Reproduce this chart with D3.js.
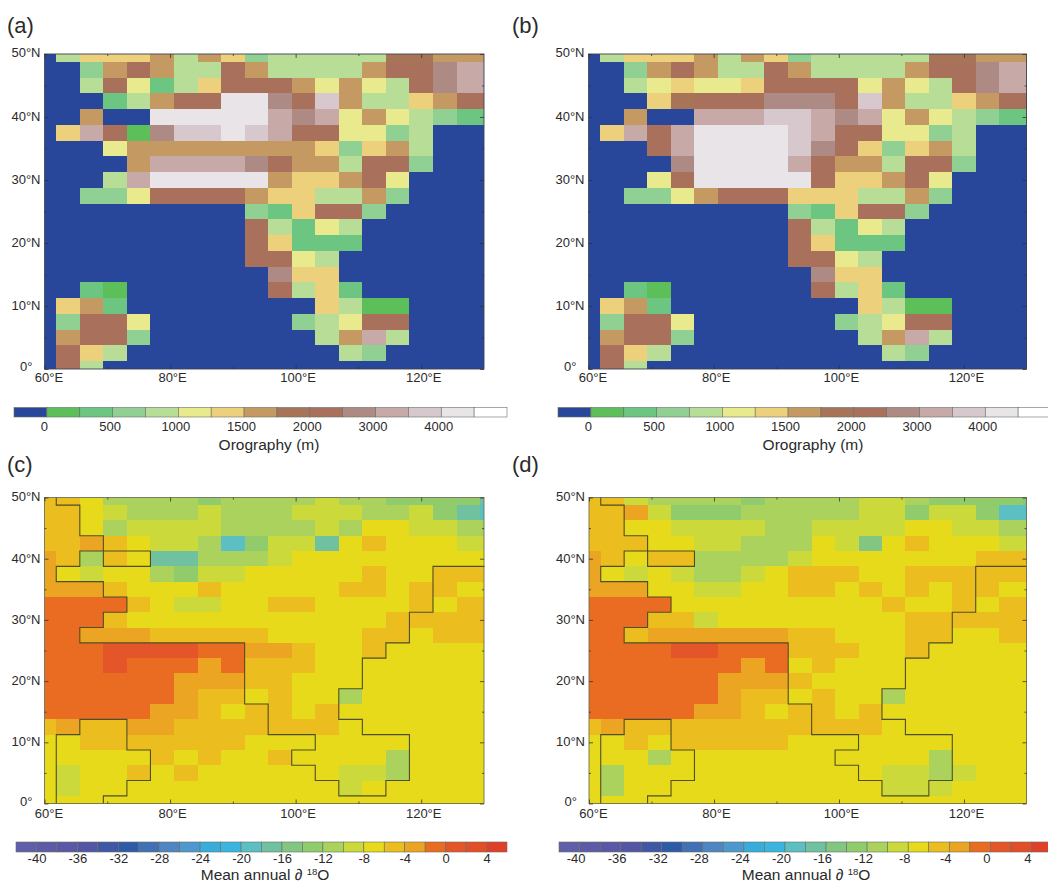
<!DOCTYPE html>
<html>
<head>
<meta charset="utf-8">
<script src="https://cdn.jsdelivr.net/npm/d3@7"></script>
<style>
  html, body { margin: 0; padding: 0; background: #fff; }
  text { font-family: "Liberation Sans", Arial, sans-serif; fill: #2a2a2a; }
</style>
</head>
<body>
<div id="chart"></div>
<script>
// model grid, columns and rows are cut off at the map edge
const lonEdges = [60, 61.875, 65.625, 69.375, 73.125, 76.875, 80.625, 84.375, 88.125, 91.875, 95.625, 99.375, 103.125, 106.875, 110.625, 114.375, 118.125, 121.875, 125.625, 129.375, 130];
const latEdges = [50, 48.75, 46.25, 43.75, 41.25, 38.75, 36.25, 33.75, 31.25, 28.75, 26.25, 23.75, 21.25, 18.75, 16.25, 13.75, 11.25, 8.75, 6.25, 3.75, 1.25, 0];

const lonTicks = [60, 80, 100, 120];
const lonMinorTicks = [70, 90, 110];
const latTicks = [0, 10, 20, 30, 40, 50];
const latMinorTicks = [5, 15, 25, 35, 45];

const orographyThresholds = [0, 250, 500, 750, 1000, 1250, 1500, 1750, 2000, 2500, 3000, 3500, 4000, 4500];
const orographyColors = ['#28479b', '#5cbf5a', '#6dc582', '#90d193', '#b7dd96', '#e9e98e', '#edd07c', '#c49a62', '#a87458', '#a9705c', '#ae8a84', '#c7a9a8', '#d6c8cc', '#e8e4e8', '#ffffff'];
const orographyTicks = [0, 500, 1000, 1500, 2000, 3000, 4000];

const isotopeThresholds = [-40, -38, -36, -34, -32, -30, -28, -26, -24, -22, -20, -18, -16, -14, -12, -10, -8, -6, -4, -2, 0, 2, 4];
const isotopeColors = ['#5f5ea8', '#5e5aa6', '#5a57a4', '#5356a4', '#3f57a4', '#2f5aa6', '#4170b4', '#4f85c0', '#4f98cf', '#38addb', '#3ab6de', '#5bbfc4', '#6fc1a0', '#82c682', '#90cc6c', '#aad25c', '#ccd93a', '#e6da1a', '#ebbd1e', '#eca522', '#e96c22', '#e4562a', '#e24e28', '#e04028'];
const isotopeTicks = [-40, -36, -32, -28, -24, -20, -16, -12, -8, -4, 0, 4];

const sea = -100;

const orographyNorthA = [
  [sea, 900, 1400, 1400, 1400, 1600, 900, 1600, 1400, 600, 900, 900, 900, 900, 900, 1900, 1900, 1600, 1600, 1600],
  [sea, sea, 600, 1600, 2200, 1600, 900, 900, 2200, 1600, 900, 900, 900, 900, 1600, 2200, 2200, 2700, 3200, 3200],
  [sea, sea, 900, 2200, 1100, 400, 900, 1400, 2200, 2200, 2200, 1600, 1100, 1600, 1100, 900, 2200, 2700, 3200, 3200],
  [sea, sea, sea, 400, 900, 1600, 2200, 2200, 4200, 4200, 2700, 2200, 3700, 1600, 900, 900, 1400, 1600, 2200, 2200],
  [sea, sea, 1600, sea, sea, 4200, 4200, 4200, 4200, 4200, 3200, 2700, 3200, 1100, 1600, 1100, 900, 600, 400, 400],
  [sea, 1400, 3200, 2200, 100, 2700, 3700, 3700, 4200, 3700, 3200, 2200, 2200, 1100, 1100, 600, 900, sea, sea, sea],
  [sea, sea, sea, 1100, 1600, 1600, 1600, 1600, 1600, 1600, 1600, 1600, 1400, 600, 1400, 1600, 900, sea, sea, sea],
  [sea, sea, sea, sea, 1600, 3200, 3200, 3200, 3200, 2700, 2200, 1600, 1600, 900, 2200, 2200, 600, sea, sea, sea],
  [sea, sea, sea, 900, 3200, 4200, 4200, 4200, 4200, 4200, 1600, 1400, 1400, 1600, 2200, 1100, sea, sea, sea, sea],
  [sea, sea, 600, 600, 1100, 2200, 2200, 2200, 2200, 1600, 1400, 1400, 900, 900, 1600, 600, sea, sea, sea, sea]
];
const orographyNorthB = [
  [sea, 900, 1400, 1400, 1400, 1600, 900, 1600, 1400, 600, 900, 900, 900, 900, 900, 1900, 1900, 1600, 1600, 1600],
  [sea, sea, 600, 1600, 2200, 1600, 900, 900, 2200, 1600, 900, 900, 900, 900, 1600, 2200, 2200, 2700, 3200, 3200],
  [sea, sea, 900, 1100, 1400, 1100, 1100, 1400, 2200, 2200, 2200, 2200, 1100, 1600, 1100, 900, 2200, 2700, 3200, 3200],
  [sea, sea, sea, 1400, 1900, 2200, 2200, 2200, 2700, 2700, 2700, 2200, 3700, 1600, 900, 900, 1400, 1600, 2200, 2200],
  [sea, sea, 1600, sea, sea, 3200, 3200, 3200, 3700, 3700, 3200, 2700, 3200, 1100, 1600, 1100, 900, 600, 400, 400],
  [sea, 1400, 3200, 2200, 3200, 4200, 4200, 4200, 4200, 3700, 3200, 2200, 2200, 1100, 1100, 600, 900, sea, sea, sea],
  [sea, sea, sea, 2200, 3200, 4200, 4200, 4200, 4200, 3700, 2700, 2200, 1400, 600, 1400, 1600, 900, sea, sea, sea],
  [sea, sea, sea, sea, 2700, 4200, 4200, 4200, 4200, 3200, 2200, 1600, 1600, 900, 2200, 2200, 600, sea, sea, sea],
  [sea, sea, sea, 1100, 2200, 4200, 4200, 4200, 4200, 4200, 2200, 1400, 1400, 1600, 2200, 1100, sea, sea, sea, sea],
  [sea, sea, 600, 600, 1100, 1600, 2200, 2200, 2200, 1400, 1400, 1400, 900, 900, 1600, 600, sea, sea, sea, sea]
];
// south of 26N both orographies are the same
const orographySouth = [
  [sea, sea, sea, sea, sea, sea, sea, sea, sea, 600, 400, 1400, 2200, 2200, 600, sea, sea, sea, sea, sea],
  [sea, sea, sea, sea, sea, sea, sea, sea, sea, 2200, 900, 400, 1100, 900, sea, sea, sea, sea, sea, sea],
  [sea, sea, sea, sea, sea, sea, sea, sea, sea, 2200, 1400, 400, 400, 400, sea, sea, sea, sea, sea, sea],
  [sea, sea, sea, sea, sea, sea, sea, sea, sea, 2200, 2200, 1100, 900, sea, sea, sea, sea, sea, sea, sea],
  [sea, sea, sea, sea, sea, sea, sea, sea, sea, sea, 2700, 1400, 1400, sea, sea, sea, sea, sea, sea, sea],
  [sea, sea, 400, 100, sea, sea, sea, sea, sea, sea, 2200, 900, 1400, 400, sea, sea, sea, sea, sea, sea],
  [sea, 1400, 1600, 400, sea, sea, sea, sea, sea, sea, sea, sea, 1400, 900, 100, 100, sea, sea, sea, sea],
  [sea, 600, 2200, 2200, 1100, sea, sea, sea, sea, sea, sea, 600, 900, 1100, 2200, 2200, sea, sea, sea, sea],
  [sea, 1600, 2200, 2200, 600, sea, sea, sea, sea, sea, sea, sea, 900, 1600, 3200, 900, sea, sea, sea, sea],
  [sea, 2200, 1400, 900, sea, sea, sea, sea, sea, sea, sea, sea, sea, 900, 600, sea, sea, sea, sea, sea],
  [sea, 2200, 900, sea, sea, sea, sea, sea, sea, sea, sea, sea, sea, sea, sea, sea, sea, sea, sea, sea]
];

// mean annual d18O, per mil, class middle
const isotopeC = [
  [-5, -5, -7, -11, -11, -11, -11, -13, -11, -11, -11, -11, -9, -11, -11, -13, -13, -13, -13, -17],
  [-5, -5, -7, -9, -11, -11, -11, -9, -11, -11, -11, -9, -9, -9, -11, -11, -9, -13, -17, -19],
  [-5, -5, -7, -11, -9, -9, -9, -9, -11, -11, -11, -11, -9, -11, -7, -7, -9, -9, -11, -11],
  [-5, -5, -3, -5, -7, -9, -9, -11, -19, -13, -9, -9, -17, -7, -5, -7, -7, -7, -9, -9],
  [-3, -5, -11, -5, -7, -17, -17, -11, -11, -11, -9, -7, -7, -7, -7, -7, -7, -7, -7, -7],
  [-3, -7, -9, -7, -7, -11, -13, -9, -9, -7, -7, -7, -7, -7, -5, -7, -7, -5, -5, -5],
  [-3, -3, -3, -5, -7, -7, -7, -5, -7, -7, -7, -7, -7, -5, -5, -7, -5, -5, -7, -7],
  [-1, -1, -1, -1, -5, -7, -9, -9, -7, -7, -5, -5, -7, -7, -7, -7, -5, -7, -5, -5],
  [-1, -1, -1, -5, -7, -7, -7, -7, -7, -7, -7, -7, -7, -7, -7, -5, -5, -5, -5, -5],
  [-1, -1, -3, -3, -3, -5, -5, -5, -5, -5, -7, -7, -7, -7, -5, -5, -7, -5, -5, -5],
  [-1, -1, -1, 1, 1, 1, 1, -1, -1, -3, -3, -5, -7, -7, -5, -7, -7, -7, -7, -7],
  [-1, -1, -1, 1, -1, -1, -1, -3, -1, -5, -5, -5, -7, -7, -7, -7, -7, -7, -7, -7],
  [-1, -1, -1, -1, -1, -1, -3, -3, -3, -5, -5, -7, -7, -7, -7, -7, -7, -7, -7, -7],
  [-1, -1, -1, -1, -1, -1, -3, -5, -5, -7, -5, -7, -7, -11, -7, -7, -7, -7, -7, -7],
  [-1, -1, -1, -1, -1, -3, -3, -5, -7, -5, -5, -7, -5, -7, -7, -7, -7, -7, -7, -7],
  [-5, -3, -5, -5, -3, -3, -5, -5, -5, -5, -5, -5, -5, -7, -7, -7, -7, -7, -7, -7],
  [-7, -7, -5, -5, -5, -5, -5, -5, -5, -7, -7, -7, -7, -7, -7, -7, -7, -7, -7, -7],
  [-7, -7, -7, -7, -7, -5, -7, -5, -7, -7, -5, -7, -7, -7, -7, -11, -7, -7, -7, -7],
  [-7, -9, -7, -7, -5, -7, -5, -7, -7, -7, -7, -7, -7, -9, -9, -11, -7, -7, -7, -7],
  [-7, -9, -7, -7, -7, -7, -7, -7, -7, -7, -7, -7, -7, -9, -7, -7, -7, -7, -7, -7],
  [-7, -7, -7, -7, -7, -7, -7, -7, -7, -7, -7, -7, -7, -7, -7, -7, -7, -7, -7, -7]
];
const isotopeD = [
  [-5, -5, -9, -11, -11, -11, -11, -13, -11, -11, -11, -11, -9, -9, -11, -13, -13, -13, -13, -15],
  [-5, -5, -3, -9, -13, -13, -13, -11, -11, -11, -11, -11, -9, -9, -13, -9, -9, -13, -19, -19],
  [-5, -5, -7, -7, -9, -9, -9, -9, -11, -11, -9, -9, -9, -9, -7, -7, -9, -9, -11, -11],
  [-5, -5, -5, -7, -7, -9, -9, -11, -11, -11, -7, -9, -15, -7, -5, -7, -7, -7, -9, -9],
  [-3, -5, -7, -5, -5, -11, -11, -11, -11, -9, -7, -7, -7, -7, -7, -7, -7, -5, -5, -5],
  [-3, -7, -9, -7, -9, -11, -11, -9, -7, -5, -5, -5, -7, -7, -5, -5, -5, -5, -5, -5],
  [-3, -3, -3, -7, -7, -9, -9, -7, -7, -5, -5, -7, -5, -7, -5, -7, -5, -5, -7, -7],
  [-1, -1, -1, -1, -7, -7, -7, -7, -7, -7, -7, -7, -7, -5, -7, -7, -5, -7, -5, -5],
  [-1, -1, -1, -5, -5, -9, -7, -7, -7, -7, -7, -7, -7, -7, -5, -5, -5, -5, -5, -5],
  [-1, -1, -5, -3, -3, -3, -3, -3, -3, -5, -5, -7, -7, -7, -5, -5, -7, -7, -5, -5],
  [-1, -1, -1, -1, 1, 1, -1, -1, -1, -5, -5, -5, -7, -7, -5, -7, -7, -7, -7, -7],
  [-1, -1, -1, -1, -1, -1, -1, -3, -1, -7, -5, -7, -7, -7, -7, -7, -7, -7, -7, -7],
  [-1, -1, -1, -1, -1, -1, -3, -3, -3, -5, -7, -7, -7, -7, -7, -7, -7, -7, -7, -7],
  [-1, -1, -1, -1, -1, -1, -3, -5, -5, -7, -5, -7, -7, -11, -7, -7, -7, -7, -7, -7],
  [-1, -1, -1, -1, -1, -3, -3, -5, -7, -5, -5, -7, -5, -7, -7, -7, -7, -7, -7, -7],
  [-5, -3, -5, -5, -5, -5, -5, -5, -5, -5, -5, -5, -5, -7, -7, -7, -7, -7, -7, -7],
  [-7, -7, -5, -7, -5, -5, -5, -5, -5, -7, -7, -7, -7, -7, -7, -7, -7, -7, -7, -7],
  [-7, -7, -7, -11, -7, -7, -7, -7, -7, -7, -7, -7, -7, -7, -7, -11, -7, -7, -7, -7],
  [-7, -11, -7, -7, -7, -7, -7, -7, -7, -7, -7, -7, -7, -9, -9, -11, -9, -7, -7, -7],
  [-7, -11, -7, -7, -7, -7, -7, -7, -7, -7, -7, -7, -7, -9, -9, -9, -7, -7, -7, -7],
  [-7, -7, -7, -7, -7, -7, -7, -7, -7, -7, -7, -7, -7, -7, -7, -7, -7, -7, -7, -7]
];

const orographyA = orographyNorthA.concat(orographySouth);
const orographyB = orographyNorthB.concat(orographySouth);

const orographyScale = d3.scaleThreshold().domain(orographyThresholds).range(orographyColors);
const isotopeScale = d3.scaleThreshold().domain(isotopeThresholds).range(isotopeColors);

const svg = d3.select('#chart').append('svg')
  .attr('width', 1048)
  .attr('height', 884)
  .style('display', 'block');

// land is whatever is not sea in orography (a), coast runs between land and sea cells
function coastPath(x, y) {
  const path = d3.path();
  orographyA.forEach((row, r) => {
    row.forEach((v, c) => {
      const land = v >= 0;
      if (c + 1 < row.length && land !== (row[c + 1] >= 0)) {
        path.moveTo(x(lonEdges[c + 1]), y(latEdges[r]));
        path.lineTo(x(lonEdges[c + 1]), y(latEdges[r + 1]));
      }
      if (r + 1 < orographyA.length && land !== (orographyA[r + 1][c] >= 0)) {
        path.moveTo(x(lonEdges[c]), y(latEdges[r + 1]));
        path.lineTo(x(lonEdges[c + 1]), y(latEdges[r + 1]));
      }
    });
  });
  return path.toString();
}

function drawMap(cfg) {
  const x = d3.scaleLinear().domain([60, 130]).range([cfg.left, cfg.right]);
  const y = d3.scaleLinear().domain([0, 50]).range([cfg.bottom, cfg.top]);
  const g = svg.append('g');

  const rows = g.selectAll('g.row').data(cfg.values).join('g').attr('class', 'row');
  rows.each(function(row, r) {
    d3.select(this).selectAll('rect').data(row).join('rect')
      .attr('x', (d, c) => x(lonEdges[c]))
      .attr('width', (d, c) => x(lonEdges[c + 1]) - x(lonEdges[c]))
      .attr('y', y(latEdges[r]))
      .attr('height', y(latEdges[r + 1]) - y(latEdges[r]))
      .attr('fill', d => cfg.color(d))
      .attr('shape-rendering', 'crispEdges');
  });

  if (cfg.coast) {
    g.append('path')
      .attr('d', coastPath(x, y))
      .attr('fill', 'none')
      .attr('stroke', '#4f4f25')
      .attr('stroke-width', 1.1)
      .attr('stroke-linecap', 'square');
  }

  g.append('rect')
    .attr('x', cfg.left)
    .attr('y', cfg.top)
    .attr('width', cfg.right - cfg.left)
    .attr('height', cfg.bottom - cfg.top)
    .attr('fill', 'none')
    .attr('stroke', cfg.coast ? '#6d7050' : '#3d4450')
    .attr('stroke-width', 0.9);

  // inward ticks on all four sides
  const tickStyle = sel => {
    sel.select('.domain').remove();
    sel.selectAll('line').attr('stroke', '#333').attr('stroke-width', 0.8);
  };
  const xAxis = d3.axisBottom(x).tickValues(lonTicks).tickSizeInner(-4).tickSizeOuter(0).tickPadding(cfg.xPad)
    .tickFormat(d => d + '°E');
  const xAxisG = g.append('g').attr('transform', `translate(0,${cfg.bottom})`).call(xAxis).call(tickStyle);
  xAxisG.selectAll('text').attr('font-size', 13).attr('font-family', null)
    .attr('dx', d => d === 60 ? 4 : 2);
  g.append('g').attr('transform', `translate(0,${cfg.top})`)
    .call(d3.axisTop(x).tickValues(lonTicks).tickSizeInner(-4).tickSizeOuter(0).tickFormat(''))
    .call(tickStyle);
  [[d3.axisBottom, cfg.bottom, -2], [d3.axisTop, cfg.top, -2]].forEach(a => {
    g.append('g').attr('transform', `translate(0,${a[1]})`)
      .call(a[0](x).tickValues(lonMinorTicks).tickSizeInner(a[2]).tickSizeOuter(0).tickFormat(''))
      .call(tickStyle);
  });

  const yAxis = d3.axisLeft(y).tickValues(latTicks).tickSizeInner(-4).tickSizeOuter(0).tickPadding(4)
    .tickFormat(d => d === 0 ? '0°' : d + '°N');
  const yAxisG = g.append('g').attr('transform', `translate(${cfg.left},0)`).call(yAxis).call(tickStyle);
  yAxisG.selectAll('text').attr('font-size', 13).attr('font-family', null)
    .attr('dx', d => d === 0 ? -8 : 0)
    .attr('dy', d => d === 0 ? '0.12em' : d === 50 ? '0.22em' : '0.26em');
  g.append('g').attr('transform', `translate(${cfg.right},0)`)
    .call(d3.axisRight(y).tickValues(latTicks).tickSizeInner(-4).tickSizeOuter(0).tickFormat(''))
    .call(tickStyle);
  [[d3.axisLeft, cfg.left], [d3.axisRight, cfg.right]].forEach(a => {
    g.append('g').attr('transform', `translate(${a[1]},0)`)
      .call(a[0](y).tickValues(latMinorTicks).tickSizeInner(-2).tickSizeOuter(0).tickFormat(''))
      .call(tickStyle);
  });

  svg.append('text')
    .attr('x', cfg.labelX)
    .attr('y', cfg.labelY)
    .attr('font-size', 22)
    .text(cfg.label);
}

function drawBar(cfg) {
  const domain = [cfg.min].concat(cfg.thresholds, [cfg.max]);
  const bandWidth = (cfg.x1 - cfg.x0) / (domain.length - 1);
  const x = d3.scaleLinear().domain(domain).range(domain.map((d, i) => cfg.x0 + i * bandWidth));
  const g = svg.append('g');

  g.selectAll('rect').data(cfg.colors).join('rect')
    .attr('x', (d, i) => x(domain[i]))
    .attr('width', (d, i) => x(domain[i + 1]) - x(domain[i]))
    .attr('y', cfg.y)
    .attr('height', cfg.h)
    .attr('fill', d => d)
    .attr('stroke', '#666f66')
    .attr('stroke-width', 0.6);

  const axis = g.append('g').attr('transform', `translate(0,${cfg.y + cfg.h})`)
    .call(d3.axisBottom(x).tickValues(cfg.ticks).tickSize(0).tickPadding(cfg.pad).tickFormat(d => String(d)));
  axis.select('.domain').remove();
  axis.selectAll('text').attr('font-size', 13).attr('font-family', null).attr('dx', cfg.dx);

  const title = svg.append('text')
    .attr('x', cfg.titleX)
    .attr('y', cfg.titleY)
    .attr('text-anchor', 'middle')
    .attr('font-size', 15.5);
  if (cfg.isotope) {
    title.append('tspan').text('Mean annual ');
    title.append('tspan').attr('font-style', 'italic').text('∂ ');
    title.append('tspan').attr('font-size', 9.5).attr('dy', -5).text('18');
    title.append('tspan').attr('dy', 5).text('O');
  } else {
    title.text('Orography (m)');
  }
}

drawMap({values: orographyA, color: orographyScale, left: 44.5, right: 484, top: 54, bottom: 369, xPad: 4, label: '(a)', labelX: 7, labelY: 33});
drawMap({values: orographyB, color: orographyScale, left: 588.5, right: 1026.5, top: 54, bottom: 369, xPad: 4, label: '(b)', labelX: 512, labelY: 33});
drawMap({values: isotopeC, color: isotopeScale, coast: true, left: 44.5, right: 484, top: 497.5, bottom: 803.5, xPad: 5, label: '(c)', labelX: 7, labelY: 472});
drawMap({values: isotopeD, color: isotopeScale, coast: true, left: 589, right: 1026.5, top: 497.5, bottom: 803.5, xPad: 5, label: '(d)', labelX: 512, labelY: 472});

const orographyBar = {thresholds: orographyThresholds, colors: orographyColors, ticks: orographyTicks, min: -250, max: 5000, y: 407.5, h: 9.5, pad: 5, dx: -3};
const isotopeBar = {thresholds: isotopeThresholds, colors: isotopeColors, ticks: isotopeTicks, min: -42, max: 6, y: 842, h: 10, pad: 2, isotope: true};

drawBar({...orographyBar, x0: 14, x1: 507, titleX: 269, titleY: 450});
drawBar({...orographyBar, x0: 558, x1: 1051, titleX: 813, titleY: 450});
drawBar({...isotopeBar, x0: 16, x1: 507, dx: 0, titleX: 265, titleY: 880});
drawBar({...isotopeBar, x0: 559, x1: 1052, dx: -4, titleX: 806, titleY: 880});
</script>
</body>
</html>
